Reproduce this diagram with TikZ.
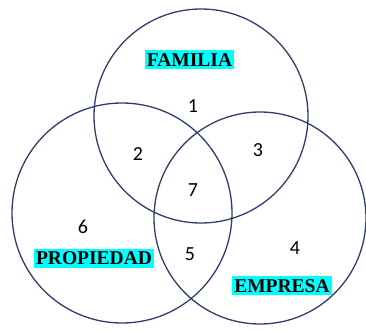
\documentclass[tikz,border=0pt]{standalone}
\usepackage{fontspec}
\setmainfont{Liberation Serif}
\newfontfamily\numfont{Carlito}
\definecolor{ringblue}{HTML}{2E3D6E}
\definecolor{labelcyan}{HTML}{00FFFF}
\tikzset{
  ring/.style={draw=ringblue, line width=1.3pt},
  setlabel/.style={fill=labelcyan, inner xsep=2pt, inner ysep=3pt, font=\fontsize{19.5}{20}\selectfont\bfseries, text height=13pt, text depth=0pt},
  regionnum/.style={font=\numfont\fontsize{20}{20}\selectfont, inner sep=0pt}
}
\begin{document}
\begin{tikzpicture}[x=1pt,y=-1pt]
\useasboundingbox (0,0) rectangle (366,329);
\coordinate (cf) at (201,116);
\coordinate (cp) at (122,213);
\coordinate (ce) at (260,218);
\draw[ring] (cf) circle[radius=107pt];
\draw[ring] (cp) circle[radius=110pt];
\draw[ring] (ce) circle[radius=106pt];
\node[setlabel] (fam) at (189.5,59.5) {FAMILIA};
\node[setlabel] (prop) at (94,258) {PROPIEDAD};
\node[setlabel] (emp) at (282,285.5) {EMPRESA};
\node[regionnum] (n1) at (193,106) {1};
\node[regionnum] (n2) at (138,154) {2};
\node[regionnum] (n3) at (258,150) {3};
\node[regionnum] (n7) at (193,190) {7};
\node[regionnum] (n6) at (83,227) {6};
\node[regionnum] (n5) at (190,254) {5};
\node[regionnum] (n4) at (295,248) {4};
\end{tikzpicture}
\end{document}
